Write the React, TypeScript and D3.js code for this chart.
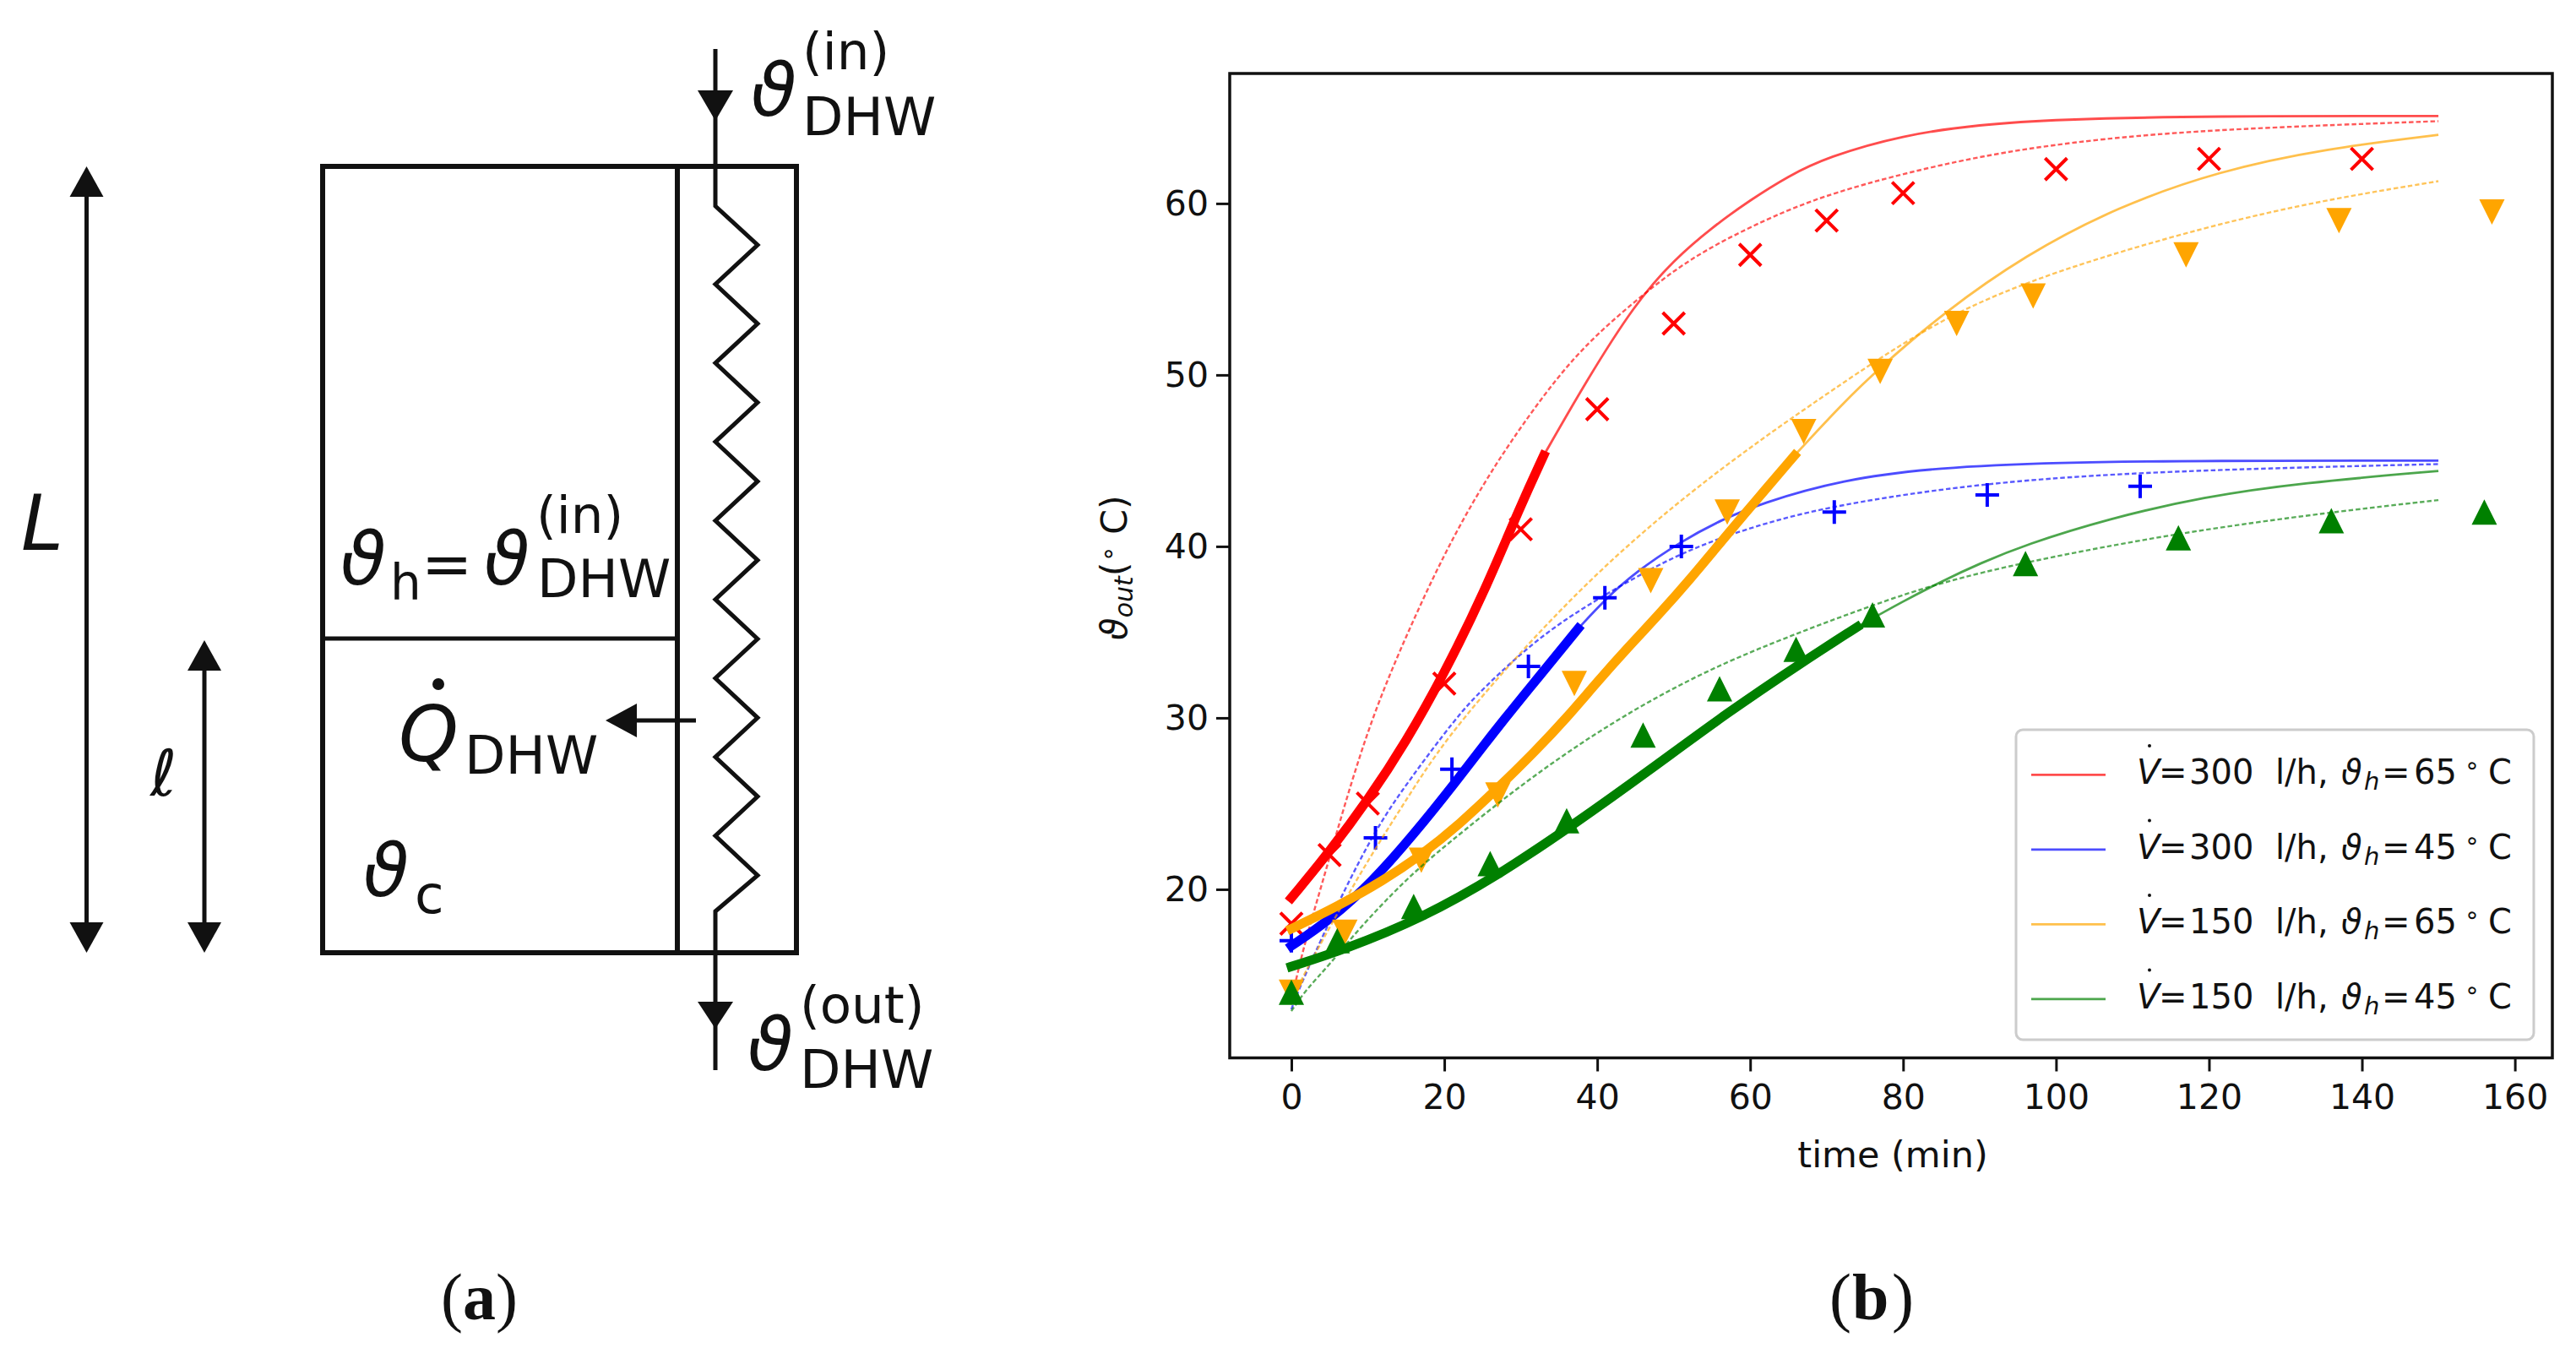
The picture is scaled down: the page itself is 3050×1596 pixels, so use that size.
import { useEffect, useRef } from 'react'
import * as d3 from 'd3'

// measured points, [time (min), outlet temperature]
const xTicks = [0, 20, 40, 60, 80, 100, 120, 140, 160]
const yTicks = [20, 30, 40, 50, 60]

const redMarkers = [[0, 18], [5, 22], [10, 25], [20, 32], [30, 41], [40, 48], [50, 53], [60, 57], [70, 59], [80, 60.6], [100, 62], [120, 62.6], [140, 62.6]]
const blueMarkers = [[0, 17], [11, 23], [21, 27], [31, 33], [41, 37], [51, 40], [71, 42], [91, 43], [111, 43.5]]
const orangeMarkers = [[0, 14], [7, 17.5], [17, 21.7], [27, 25.5], [37, 32], [47, 38], [57, 42], [67, 46.7], [77, 50.2], [87, 53], [97, 54.6], [117, 57], [137, 59], [157, 59.5]]
const greenMarkers = [[0, 14], [6, 17], [16, 19], [26, 21.5], [36, 24], [46, 29], [56, 31.7], [66, 34], [76, 36], [96, 39], [116, 40.5], [136, 41.5], [156, 42]]

const redThick = [[0, 19.5], [5, 22.2], [10, 25.2], [15, 28.6], [20, 32.6], [25, 37.1], [30, 42.4], [33, 45.3]]
const redThin = [[33, 45.3], [38.5, 49.6], [45, 54.2], [50, 56.7], [55, 58.6], [60, 60.2], [65, 61.6], [70, 62.7], [80, 64], [90, 64.6], [100, 64.9], [120, 65.1], [150, 65.1]]
const redDash = [[0, 13.5], [1.5, 16.5], [4, 20.3], [7, 25], [10.5, 30], [15, 34.8], [20, 39.6], [25, 43.6], [30, 47], [37, 51.2], [44.6, 54.2], [52, 56.8], [60.7, 58.8], [70, 60.6], [87.6, 62.6], [102, 63.6], [119, 64.3], [150, 64.8]]

const blueThick = [[0, 16.7], [5, 18.2], [10.5, 20.4], [16, 23.2], [21.4, 26.2], [26, 28.9], [30.9, 31.6], [37.5, 35.2]]
const blueThin = [[37.5, 35.2], [41, 36.9], [45, 38.5], [51, 40.3], [56, 41.5], [61.3, 42.5], [72, 43.9], [84.5, 44.6], [100, 44.9], [120, 45], [150, 45]]
const blueDash = [[0, 13], [1, 14.2], [5, 18.2], [10.8, 23.4], [15.3, 26.3], [21.5, 30], [25, 31.7], [32.8, 34.9], [41, 37.2], [51, 39.7], [61.3, 41.3], [71, 42.4], [90, 43.7], [113, 44.4], [150, 44.8]]

const orangeThick = [[0, 17.7], [6, 19], [12, 20.5], [17, 22], [22, 23.8], [27, 25.9], [32, 28.1], [36, 30], [40, 32.1], [44, 34.1], [48, 36], [52, 38], [57, 40.7], [61, 42.8], [65.8, 45.3]]
const orangeThin = [[65.8, 45.3], [72, 48.3], [76.9, 50.4], [85.2, 53.6], [96, 57], [108, 59.8], [121.3, 61.9], [135.3, 63.2], [150, 64]]
const orangeDash = [[0, 13.5], [1.6, 15], [5, 17.8], [10, 21.7], [15, 25.2], [20, 28.7], [30, 33.9], [40, 38.5], [50, 42.4], [60, 45.8], [70, 48.9], [85, 53.4], [100, 56.1], [120, 58.7], [135, 60.2], [150, 61.3]]

const greenThick = [[0, 15.5], [7, 16.5], [17, 18.3], [27, 20.8], [37, 23.8], [47, 27], [57, 30.3], [67, 33.3], [74, 35.3]]
const greenThin = [[74, 35.3], [80, 36.8], [85.2, 38], [90, 39], [96, 40.1], [106.7, 41.6], [119.4, 42.9], [132, 43.7], [150, 44.4]]
const greenDash = [[0, 12.9], [2, 14.2], [5, 15.6], [8.6, 17.6], [15, 20.6], [20, 22.5], [30, 26.1], [40, 29.2], [50, 31.8], [60, 33.9], [76, 36.6], [85, 37.9], [96, 39.1], [116, 40.8], [136, 42], [150, 42.7]]

const legendFlows = ['300', '300', '150', '150']
const legendTemps = ['65', '45', '65', '45']

const series = [
  { color: 'red', marker: 'x', points: redMarkers, thick: redThick, thin: redThin, dash: redDash },
  { color: 'blue', marker: 'plus', points: blueMarkers, thick: blueThick, thin: blueThin, dash: blueDash },
  { color: 'orange', marker: 'down', points: orangeMarkers, thick: orangeThick, thin: orangeThin, dash: orangeDash },
  { color: 'green', marker: 'up', points: greenMarkers, thick: greenThick, thin: greenThin, dash: greenDash },
]

const SANS = 'DejaVu Sans'
const INK = '#111'

type Opts = { size: number; italic?: boolean; anchor?: string; serif?: boolean; bold?: boolean; fill?: string }

const put = (g: any, x: number, y: number, str: string, o: Opts) =>
  g.append('text')
    .attr('x', x)
    .attr('y', y)
    .attr('text-anchor', o.anchor || 'start')
    .style('font-family', o.serif ? 'Liberation Serif' : SANS)
    .style('font-size', `${o.size}px`)
    .style('font-style', o.italic ? 'italic' : 'normal')
    .style('font-weight', o.bold ? 'bold' : 'normal')
    .style('fill', o.fill || INK)
    .text(str)

const App = () => {
  const svgRef = useRef<SVGSVGElement>(null)

  useEffect(() => {
    if (!svgRef.current) return
    const svg = d3.select(svgRef.current)
    svg.selectAll('*').remove()

    // ---- panel (a): schematic ----
    const a = svg.append('g')
    const schemStroke = 6

    const arrowHead = (x: number, y: number, dir: number, w = 40, h = 36) =>
      a.append('path')
        .attr('d', `M${x - w / 2},${y}L${x + w / 2},${y}L${x},${y + dir * h}Z`)
        .attr('fill', INK)

    const vline = (x: number, y0: number, y1: number, w = schemStroke) =>
      a.append('line').attr('x1', x).attr('x2', x).attr('y1', y0).attr('y2', y1)
        .attr('stroke', INK).attr('stroke-width', w)

    a.append('rect').attr('x', 382).attr('y', 197).attr('width', 561).attr('height', 931)
      .attr('fill', 'none').attr('stroke', INK).attr('stroke-width', schemStroke)
    vline(802, 197, 1128)
    a.append('line').attr('x1', 382).attr('x2', 802).attr('y1', 756).attr('y2', 756)
      .attr('stroke', INK).attr('stroke-width', 5)

    // height arrows
    vline(102.5, 210, 1115, 5)
    arrowHead(102.5, 233, -1)
    arrowHead(102.5, 1092, 1)
    vline(242, 775, 1115, 5)
    arrowHead(242, 794, -1)
    arrowHead(242, 1092, 1)

    // coil
    const coilX = 847
    const coil: [number, number][] = [[coilX, 58], [coilX, 244]]
    d3.range(9).forEach(i => {
      coil.push([897, 290 + i * 93.3])
      if (i < 8) coil.push([coilX, 336.5 + i * 93.3])
    })
    coil.push([coilX, 1079], [coilX, 1267])
    a.append('path').attr('d', d3.line()(coil))
      .attr('fill', 'none').attr('stroke', INK).attr('stroke-width', 5)
    arrowHead(coilX, 107, 1, 42, 36)
    arrowHead(coilX, 1186, 1, 42, 32)

    // heat flow arrow
    a.append('line').attr('x1', 824).attr('x2', 750).attr('y1', 853).attr('y2', 853)
      .attr('stroke', INK).attr('stroke-width', 5)
    a.append('path').attr('d', 'M754,833L754,873L717,853Z').attr('fill', INK)

    const theta = { size: 88, italic: true }
    const sub = { size: 63 }
    const sup = { size: 61 }

    put(a, 889, 137, 'ϑ', theta)
    put(a, 950, 82, '(in)', sup)
    put(a, 950, 160, 'DHW', sub)

    put(a, 885, 1267, 'ϑ', theta)
    put(a, 947, 1211, '(out)', sup)
    put(a, 947, 1288, 'DHW', sub)

    put(a, 25, 651, 'L', { size: 90, italic: true })
    put(a, 178, 942, 'ℓ', { size: 76, italic: true })

    put(a, 403, 692, 'ϑ', theta)
    put(a, 462, 710, 'h', { size: 58 })
    put(a, 499, 692, '=', { size: 72 })
    put(a, 573, 692, 'ϑ', theta)
    put(a, 635, 631, '(in)', sup)
    put(a, 636, 707, 'DHW', sub)

    put(a, 472, 901, 'Q', { size: 90, italic: true })
    a.append('circle').attr('cx', 519).attr('cy', 810).attr('r', 7).attr('fill', INK)
    put(a, 550, 916, 'DHW', sub)

    put(a, 430, 1061, 'ϑ', theta)
    put(a, 491, 1081, 'c', sub)

    put(a, 522, 1562, '(', { size: 78, serif: true })
    put(a, 548, 1562, 'a', { size: 78, serif: true, bold: true })
    put(a, 587, 1562, ')', { size: 78, serif: true })
    put(a, 2166, 1562, '(', { size: 78, serif: true })
    put(a, 2193, 1562, 'b', { size: 78, serif: true, bold: true })
    put(a, 2240, 1562, ')', { size: 78, serif: true })

    // ---- panel (b): chart ----
    const left = 1456
    const right = 3022
    const top = 87
    const bottom = 1252.5

    const x = d3.scaleLinear().domain([-8.06, 164.9]).range([left, right])
    const y = d3.scaleLinear().domain([10.17, 67.58]).range([bottom, top])

    const line = d3.line<number[]>()
      .x(d => x(d[0]))
      .y(d => y(d[1]))
      .curve(d3.curveBasis)

    const plot = svg.append('g')

    const markerPath: Record<string, string> = {
      x: 'M-13,-13L13,13M-13,13L13,-13',
      plus: 'M-14,0L14,0M0,-14L0,14',
      down: 'M-15,-15L15,-15L0,15Z',
      up: 'M-15,15L15,15L0,-15Z',
    }

    series.forEach(s => {
      plot.append('path').attr('d', line(s.dash))
        .attr('fill', 'none').attr('stroke', s.color).attr('stroke-width', 2.4)
        .attr('stroke-opacity', 0.65).attr('stroke-dasharray', '5.5 3')
      plot.append('path').attr('d', line(s.thin))
        .attr('fill', 'none').attr('stroke', s.color).attr('stroke-width', 2.8)
        .attr('stroke-opacity', 0.7)

      const filled = s.marker === 'up' || s.marker === 'down'
      plot.selectAll(null)
        .data(s.points)
        .join('path')
        .attr('transform', d => `translate(${x(d[0])},${y(d[1])})`)
        .attr('d', markerPath[s.marker])
        .attr('fill', filled ? s.color : 'none')
        .attr('stroke', filled ? 'none' : s.color)
        .attr('stroke-width', 4)

      plot.append('path').attr('d', line(s.thick))
        .attr('fill', 'none').attr('stroke', s.color).attr('stroke-width', 11)
        .attr('stroke-linecap', 'square')
    })

    // axes
    const xAxis = svg.append('g')
      .attr('transform', `translate(0,${bottom})`)
      .call(d3.axisBottom(x).tickValues(xTicks).tickSize(16).tickPadding(15))
    const yAxis = svg.append('g')
      .attr('transform', `translate(${left},0)`)
      .call(d3.axisLeft(y).tickValues(yTicks).tickSize(16).tickPadding(9))

    ;[xAxis, yAxis].forEach(ax => {
      ax.select('.domain').remove()
      ax.selectAll('line').attr('stroke', INK).attr('stroke-width', 3)
      ax.selectAll('text')
        .style('font-family', SANS)
        .style('font-size', '41px')
        .style('fill', INK)
    })

    svg.append('rect')
      .attr('x', left).attr('y', top)
      .attr('width', right - left).attr('height', bottom - top)
      .attr('fill', 'none').attr('stroke', INK).attr('stroke-width', 3.5)

    put(svg, 2241, 1382, 'time (min)', { size: 43, anchor: 'middle' })

    // y label
    const yLabel = svg.append('text')
      .attr('transform', 'translate(1334,672) rotate(-90)')
      .attr('text-anchor', 'middle')
      .style('font-family', SANS)
      .style('font-size', '43px')
      .style('fill', INK)
    yLabel.append('tspan').style('font-style', 'italic').text('ϑ')
    yLabel.append('tspan').style('font-style', 'italic').style('font-size', '30px').attr('dy', 7).text('out')
    yLabel.append('tspan').attr('dy', -7).text('(')
    yLabel.append('tspan').style('font-size', '30px').attr('dy', -12).text('∘')
    yLabel.append('tspan').attr('dy', 12).text(' C)')

    // legend
    const legend = svg.append('g')
    legend.append('rect')
      .attr('x', 2387).attr('y', 864).attr('width', 613).attr('height', 367)
      .attr('rx', 8).attr('fill', 'white').attr('fill-opacity', 0.9)
      .attr('stroke', '#ccc').attr('stroke-width', 3)

    series.forEach((s, i) => {
      const rowY = 917.4 + i * 88.5
      legend.append('line')
        .attr('x1', 2405).attr('x2', 2493).attr('y1', rowY).attr('y2', rowY)
        .attr('stroke', s.color).attr('stroke-width', 2.8).attr('stroke-opacity', 0.7)

      const base = rowY + 11
      legend.append('circle').attr('cx', 2545).attr('cy', rowY - 34.5).attr('r', 2).attr('fill', INK)
      const row = legend.append('text')
        .attr('y', base)
        .style('font-family', SANS)
        .style('font-size', '40px')
        .style('fill', INK)
      row.append('tspan').attr('x', 2530).style('font-style', 'italic').text('V')
      row.append('tspan').attr('x', 2556).text('=')
      row.append('tspan').attr('x', 2592).text(legendFlows[i])
      row.append('tspan').attr('x', 2694).text('l/h,')
      row.append('tspan').attr('x', 2772).style('font-style', 'italic').text('ϑ')
      row.append('tspan').attr('x', 2799).style('font-style', 'italic').style('font-size', '29px').attr('dy', 7).text('h')
      row.append('tspan').attr('x', 2820).attr('dy', -7).text('=')
      row.append('tspan').attr('x', 2858).text(legendTemps[i])
      row.append('tspan').attr('x', 2918).style('font-size', '29px').attr('dy', -12).text('∘')
      row.append('tspan').attr('x', 2946).attr('dy', 12).text('C')
    })
  }, [])

  return (
    <svg
      ref={svgRef}
      width={3050}
      height={1596}
      style={{ position: 'absolute', left: 0, top: 0, background: 'white' }}
    />
  )
}

export default App
